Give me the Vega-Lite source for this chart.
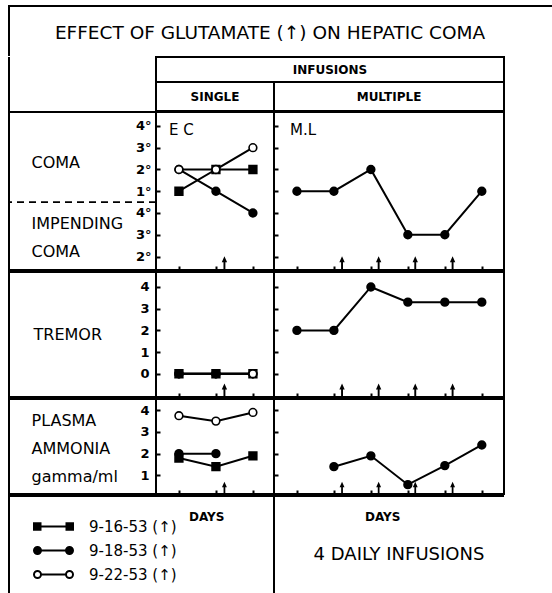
{
"$schema": "https://vega.github.io/schema/vega-lite/v6.json",
"background": "white",
"padding": {"left": 7, "top": 5, "right": 0, "bottom": 0},
"config": {
  "font": "DejaVu Sans",
  "view": {"stroke": "black", "strokeWidth": 2},
  "axis": {"domain": false, "grid": false, "tickColor": "black", "tickWidth": 2, "tickSize": -4, "labelColor": "black", "labelFont": "DejaVu Sans", "labelFontSize": 13, "labelFontWeight": "bold", "labelOverlap": false, "titleColor": "black", "titleFont": "DejaVu Sans", "titleFontSize": 12, "titleFontWeight": "bold"},
  "text": {"color": "black", "font": "DejaVu Sans"},
  "title": {"color": "black", "font": "DejaVu Sans"}
},
"datasets": {
  "obs": [
    {"measure": "coma", "patient": "E.C.", "series": "9-16-53", "day": 1, "value": 4},
    {"measure": "coma", "patient": "E.C.", "series": "9-16-53", "day": 2, "value": 5},
    {"measure": "coma", "patient": "E.C.", "series": "9-16-53", "day": 3, "value": 5},
    {"measure": "coma", "patient": "E.C.", "series": "9-18-53", "day": 1, "value": 5},
    {"measure": "coma", "patient": "E.C.", "series": "9-18-53", "day": 2, "value": 4},
    {"measure": "coma", "patient": "E.C.", "series": "9-18-53", "day": 3, "value": 3},
    {"measure": "coma", "patient": "E.C.", "series": "9-22-53", "day": 1, "value": 5},
    {"measure": "coma", "patient": "E.C.", "series": "9-22-53", "day": 2, "value": 5},
    {"measure": "coma", "patient": "E.C.", "series": "9-22-53", "day": 3, "value": 6},
    {"measure": "coma", "patient": "M.L.", "series": "M.L.", "day": 1, "value": 4},
    {"measure": "coma", "patient": "M.L.", "series": "M.L.", "day": 2, "value": 4},
    {"measure": "coma", "patient": "M.L.", "series": "M.L.", "day": 3, "value": 5},
    {"measure": "coma", "patient": "M.L.", "series": "M.L.", "day": 4, "value": 2},
    {"measure": "coma", "patient": "M.L.", "series": "M.L.", "day": 5, "value": 2},
    {"measure": "coma", "patient": "M.L.", "series": "M.L.", "day": 6, "value": 4},
    {"measure": "tremor", "patient": "E.C.", "series": "9-22-53", "day": 1, "value": 0},
    {"measure": "tremor", "patient": "E.C.", "series": "9-18-53", "day": 1, "value": 0},
    {"measure": "tremor", "patient": "E.C.", "series": "9-16-53", "day": 1, "value": 0},
    {"measure": "tremor", "patient": "E.C.", "series": "9-22-53", "day": 2, "value": 0},
    {"measure": "tremor", "patient": "E.C.", "series": "9-16-53", "day": 2, "value": 0},
    {"measure": "tremor", "patient": "E.C.", "series": "9-18-53", "day": 2, "value": 0},
    {"measure": "tremor", "patient": "E.C.", "series": "9-16-53", "day": 3, "value": 0},
    {"measure": "tremor", "patient": "E.C.", "series": "9-18-53", "day": 3, "value": 0},
    {"measure": "tremor", "patient": "E.C.", "series": "9-22-53", "day": 3, "value": 0},
    {"measure": "tremor", "patient": "M.L.", "series": "M.L.", "day": 1, "value": 2},
    {"measure": "tremor", "patient": "M.L.", "series": "M.L.", "day": 2, "value": 2},
    {"measure": "tremor", "patient": "M.L.", "series": "M.L.", "day": 3, "value": 4},
    {"measure": "tremor", "patient": "M.L.", "series": "M.L.", "day": 4, "value": 3.3},
    {"measure": "tremor", "patient": "M.L.", "series": "M.L.", "day": 5, "value": 3.3},
    {"measure": "tremor", "patient": "M.L.", "series": "M.L.", "day": 6, "value": 3.3},
    {"measure": "ammonia", "patient": "E.C.", "series": "9-16-53", "day": 1, "value": 1.8},
    {"measure": "ammonia", "patient": "E.C.", "series": "9-16-53", "day": 2, "value": 1.4},
    {"measure": "ammonia", "patient": "E.C.", "series": "9-16-53", "day": 3, "value": 1.9},
    {"measure": "ammonia", "patient": "E.C.", "series": "9-18-53", "day": 1, "value": 2.0},
    {"measure": "ammonia", "patient": "E.C.", "series": "9-18-53", "day": 2, "value": 2.0},
    {"measure": "ammonia", "patient": "E.C.", "series": "9-22-53", "day": 1, "value": 3.75},
    {"measure": "ammonia", "patient": "E.C.", "series": "9-22-53", "day": 2, "value": 3.5},
    {"measure": "ammonia", "patient": "E.C.", "series": "9-22-53", "day": 3, "value": 3.9},
    {"measure": "ammonia", "patient": "M.L.", "series": "M.L.", "day": 2, "value": 1.4},
    {"measure": "ammonia", "patient": "M.L.", "series": "M.L.", "day": 3, "value": 1.9},
    {"measure": "ammonia", "patient": "M.L.", "series": "M.L.", "day": 4, "value": 0.57},
    {"measure": "ammonia", "patient": "M.L.", "series": "M.L.", "day": 5, "value": 1.45},
    {"measure": "ammonia", "patient": "M.L.", "series": "M.L.", "day": 6, "value": 2.4}
  ],
  "infusions": [
    {"patient": "E.C.", "day": 2.23},
    {"patient": "M.L.", "day": 2.22},
    {"patient": "M.L.", "day": 3.21},
    {"patient": "M.L.", "day": 4.2},
    {"patient": "M.L.", "day": 5.21}
  ],
  "comaLevels": [
    {"level": 1, "grade": "2°", "zone": "IMPENDING COMA"},
    {"level": 2, "grade": "3°", "zone": "IMPENDING COMA"},
    {"level": 3, "grade": "4°", "zone": "IMPENDING COMA"},
    {"level": 4, "grade": "1°", "zone": "COMA"},
    {"level": 5, "grade": "2°", "zone": "COMA"},
    {"level": 6, "grade": "3°", "zone": "COMA"},
    {"level": 7, "grade": "4°", "zone": "COMA"}
  ],
  "series": [
    {"series": "9-16-53"}, {"series": "9-18-53"}, {"series": "9-22-53"}
  ]
},
"spacing": -1,
"resolve": {"scale": {"shape": "independent", "fill": "independent"}, "legend": {"shape": "independent", "fill": "independent"}},
"vconcat": [
  {
    "width": 544, "height": 50,
    "view": {"stroke": "black", "strokeWidth": 2, "strokeDash": [544, 594, 50]},
    "data": {"values": [{"t": "EFFECT OF GLUTAMATE (↑) ON HEPATIC COMA"}]},
    "mark": {"type": "text", "fontSize": 18.5, "dx": -11, "dy": 2},
    "encoding": {"text": {"field": "t"}}
  },
  {
    "spacing": 0, "bounds": "flush",
    "hconcat": [
      {
        "width": 147, "height": 54,
        "view": {"stroke": "black", "strokeWidth": 2, "strokeDash": [0, 348, 54]},
        "data": {"values": [{"t": " "}]},
        "mark": {"type": "text"},
        "encoding": {"text": {"field": "t"}}
      },
      {
        "spacing": 0, "bounds": "flush",
        "vconcat": [
          {
            "width": 348, "height": 25,
            "view": {"stroke": "black", "strokeWidth": 2},
            "data": {"values": [{"t": "INFUSIONS"}]},
            "mark": {"type": "text", "fontSize": 12, "fontWeight": "bold"},
            "encoding": {"text": {"field": "t"}}
          },
          {
            "spacing": 0, "bounds": "flush",
            "hconcat": [
              {
                "width": 118, "height": 29,
                "view": {"stroke": "black", "strokeWidth": 2},
                "data": {"values": [{"t": "SINGLE"}]},
                "mark": {"type": "text", "fontSize": 12, "fontWeight": "bold"},
                "encoding": {"text": {"field": "t"}}
              },
              {
                "width": 230, "height": 29,
                "view": {"stroke": "black", "strokeWidth": 2},
                "data": {"values": [{"t": "MULTIPLE"}]},
                "mark": {"type": "text", "fontSize": 12, "fontWeight": "bold"},
                "encoding": {"text": {"field": "t"}}
              }
            ]
          }
        ]
      }
    ]
  },
  {
    "spacing": 0, "bounds": "flush",
    "hconcat": [
      {
        "width": 147, "height": 158,
        "view": {"stroke": "black", "strokeWidth": 2},
        "layer": [
          {
            "data": {"values": [{}]},
            "mark": {"type": "rule", "strokeDash": [7, 5], "strokeWidth": 1.8, "color": "black"},
            "encoding": {"y": {"datum": 3.5, "type": "quantitative", "scale": {"domain": [0.38, 7.64], "nice": false, "zero": false}, "axis": null}}
          },
          {
            "data": {"name": "comaLevels"},
            "transform": [{"filter": "datum.zone == 'COMA'"}],
            "mark": {"type": "text", "align": "left", "dx": -51, "dy": 4, "fontSize": 16},
            "encoding": {
              "y": {"aggregate": "mean", "field": "level", "type": "quantitative", "scale": {"domain": [0.38, 7.64], "nice": false, "zero": false}, "axis": null},
              "text": {"field": "zone"}
            }
          },
          {
            "data": {"name": "comaLevels"},
            "transform": [{"filter": "datum.zone == 'IMPENDING COMA'"}],
            "mark": {"type": "text", "align": "left", "dx": -51, "dy": -11, "fontSize": 16, "lineBreak": " ", "lineHeight": 28},
            "encoding": {
              "y": {"aggregate": "mean", "field": "level", "type": "quantitative", "scale": {"domain": [0.38, 7.64], "nice": false, "zero": false}, "axis": null},
              "text": {"field": "zone"}
            }
          }
        ]
      },
      {
        "width": 118, "height": 158,
        "title": {"text": "E C", "anchor": "start", "frame": "group", "offset": -33, "dx": 13, "fontSize": 15, "fontWeight": "normal", "baseline": "middle"},
        "layer": [
          {
            "data": {"name": "infusions"},
            "transform": [{"filter": "datum.patient == 'E.C.'"}],
            "mark": {"type": "point", "shape": "arrow", "filled": true, "color": "black", "size": 180, "opacity": 1},
            "encoding": {
              "x": {"field": "day", "type": "quantitative", "scale": {"domain": [0.38, 3.57], "nice": false, "zero": false}, "axis": {"values": [1, 2, 3], "tickCount": 20, "labels": false, "title": null}},
              "y": {"datum": 0.7, "type": "quantitative", "scale": {"domain": [0.38, 7.64], "nice": false, "zero": false}, "axis": {"values": [1, 2, 3, 4, 5, 6, 7], "tickCount": 20, "labelOverlap": false, "labelExpr": "['','2°','3°','4°','1°','2°','3°','4°'][datum.value]", "title": null, "labelPadding": 9}}
            }
          },
          {
            "data": {"name": "obs"},
            "transform": [{"filter": "datum.measure == 'coma' && datum.patient == 'E.C.'"}],
            "mark": {"type": "line", "color": "black", "strokeWidth": 2},
            "encoding": {
              "x": {"field": "day", "type": "quantitative", "scale": {"domain": [0.38, 3.57], "nice": false, "zero": false}},
              "y": {"field": "value", "type": "quantitative", "scale": {"domain": [0.38, 7.64], "nice": false, "zero": false}},
              "detail": {"field": "series"}
            }
          },
          {
            "data": {"name": "obs"},
            "transform": [{"filter": "datum.measure == 'coma' && datum.patient == 'E.C.'"}],
            "mark": {"type": "point", "filled": true, "stroke": "black", "strokeWidth": 1.6, "size": 60, "opacity": 1},
            "encoding": {
              "x": {"field": "day", "type": "quantitative"},
              "y": {"field": "value", "type": "quantitative"},
              "shape": {"field": "series", "type": "nominal", "scale": {"domain": ["9-16-53", "9-18-53", "9-22-53"], "range": ["square", "circle", "circle"]}, "legend": null},
              "fill": {"field": "series", "type": "nominal", "scale": {"domain": ["9-16-53", "9-18-53", "9-22-53"], "range": ["black", "black", "white"]}, "legend": null}
            }
          }
        ]
      },
      {
        "width": 230, "height": 158,
        "title": {"text": "M.L", "anchor": "start", "frame": "group", "offset": -33, "dx": 16, "fontSize": 15, "fontWeight": "normal", "baseline": "middle"},
        "layer": [
          {
            "data": {"name": "infusions"},
            "transform": [{"filter": "datum.patient == 'M.L.'"}],
            "mark": {"type": "point", "shape": "arrow", "filled": true, "color": "black", "size": 180, "opacity": 1},
            "encoding": {
              "x": {"field": "day", "type": "quantitative", "scale": {"domain": [0.38, 6.6], "nice": false, "zero": false}, "axis": {"values": [1, 2, 3, 4, 5, 6], "tickCount": 20, "labels": false, "title": null}},
              "y": {"datum": 0.7, "type": "quantitative", "scale": {"domain": [0.38, 7.64], "nice": false, "zero": false}, "axis": {"values": [1, 2, 3, 4, 5, 6, 7], "tickCount": 20, "labels": false, "title": null}}
            }
          },
          {
            "data": {"name": "obs"},
            "transform": [{"filter": "datum.measure == 'coma' && datum.patient == 'M.L.'"}],
            "mark": {"type": "line", "color": "black", "strokeWidth": 2},
            "encoding": {
              "x": {"field": "day", "type": "quantitative", "scale": {"domain": [0.38, 6.6], "nice": false, "zero": false}},
              "y": {"field": "value", "type": "quantitative", "scale": {"domain": [0.38, 7.64], "nice": false, "zero": false}}
            }
          },
          {
            "data": {"name": "obs"},
            "transform": [{"filter": "datum.measure == 'coma' && datum.patient == 'M.L.'"}],
            "mark": {"type": "point", "shape": "circle", "filled": true, "fill": "black", "stroke": "black", "strokeWidth": 1.6, "size": 60, "opacity": 1},
            "encoding": {
              "x": {"field": "day", "type": "quantitative"},
              "y": {"field": "value", "type": "quantitative"}
            }
          }
        ]
      }
    ]
  },
  {
    "spacing": 0, "bounds": "flush",
    "hconcat": [
      {
        "width": 147, "height": 125,
        "view": {"stroke": "black", "strokeWidth": 2},
        "data": {"values": [{"t": "TREMOR"}]},
        "mark": {"type": "text", "align": "left", "dx": -49, "fontSize": 16},
        "encoding": {"text": {"field": "t"}}
      },
      {
        "width": 118, "height": 125,
        "layer": [
          {
            "data": {"name": "infusions"},
            "transform": [{"filter": "datum.patient == 'E.C.'"}],
            "mark": {"type": "point", "shape": "arrow", "filled": true, "color": "black", "size": 180, "opacity": 1},
            "encoding": {
              "x": {"field": "day", "type": "quantitative", "scale": {"domain": [0.38, 3.57], "nice": false, "zero": false}, "axis": {"values": [1, 2, 3], "tickCount": 20, "labels": false, "title": null}},
              "y": {"datum": -0.76, "type": "quantitative", "scale": {"domain": [-1.07, 4.69], "nice": false, "zero": false}, "axis": {"values": [0, 1, 2, 3, 4], "tickCount": 20, "format": ".0f", "labelOverlap": false, "title": null, "labelPadding": 11}}
            }
          },
          {
            "data": {"name": "obs"},
            "transform": [{"filter": "datum.measure == 'tremor' && datum.patient == 'E.C.'"}],
            "mark": {"type": "line", "color": "black", "strokeWidth": 2},
            "encoding": {
              "x": {"field": "day", "type": "quantitative", "scale": {"domain": [0.38, 3.57], "nice": false, "zero": false}},
              "y": {"field": "value", "type": "quantitative", "scale": {"domain": [-1.07, 4.69], "nice": false, "zero": false}},
              "detail": {"field": "series"}
            }
          },
          {
            "data": {"name": "obs"},
            "transform": [{"filter": "datum.measure == 'tremor' && datum.patient == 'E.C.'"}],
            "mark": {"type": "point", "filled": true, "stroke": "black", "strokeWidth": 1.6, "size": 60, "opacity": 1},
            "encoding": {
              "x": {"field": "day", "type": "quantitative"},
              "y": {"field": "value", "type": "quantitative"},
              "shape": {"field": "series", "type": "nominal", "scale": {"domain": ["9-16-53", "9-18-53", "9-22-53"], "range": ["square", "circle", "circle"]}, "legend": null},
              "fill": {"field": "series", "type": "nominal", "scale": {"domain": ["9-16-53", "9-18-53", "9-22-53"], "range": ["black", "black", "white"]}, "legend": null}
            }
          }
        ]
      },
      {
        "width": 230, "height": 125,
        "layer": [
          {
            "data": {"name": "infusions"},
            "transform": [{"filter": "datum.patient == 'M.L.'"}],
            "mark": {"type": "point", "shape": "arrow", "filled": true, "color": "black", "size": 180, "opacity": 1},
            "encoding": {
              "x": {"field": "day", "type": "quantitative", "scale": {"domain": [0.38, 6.6], "nice": false, "zero": false}, "axis": {"values": [1, 2, 3, 4, 5, 6], "tickCount": 20, "labels": false, "title": null}},
              "y": {"datum": -0.76, "type": "quantitative", "scale": {"domain": [-1.07, 4.69], "nice": false, "zero": false}, "axis": {"values": [0, 1, 2, 3, 4], "tickCount": 20, "labels": false, "title": null}}
            }
          },
          {
            "data": {"name": "obs"},
            "transform": [{"filter": "datum.measure == 'tremor' && datum.patient == 'M.L.'"}],
            "mark": {"type": "line", "color": "black", "strokeWidth": 2},
            "encoding": {
              "x": {"field": "day", "type": "quantitative", "scale": {"domain": [0.38, 6.6], "nice": false, "zero": false}},
              "y": {"field": "value", "type": "quantitative", "scale": {"domain": [-1.07, 4.69], "nice": false, "zero": false}}
            }
          },
          {
            "data": {"name": "obs"},
            "transform": [{"filter": "datum.measure == 'tremor' && datum.patient == 'M.L.'"}],
            "mark": {"type": "point", "shape": "circle", "filled": true, "fill": "black", "stroke": "black", "strokeWidth": 1.6, "size": 60, "opacity": 1},
            "encoding": {
              "x": {"field": "day", "type": "quantitative"},
              "y": {"field": "value", "type": "quantitative"}
            }
          }
        ]
      }
    ]
  },
  {
    "spacing": 0, "bounds": "flush",
    "hconcat": [
      {
        "width": 147, "height": 95,
        "view": {"stroke": "black", "strokeWidth": 2},
        "data": {"values": [{}]},
        "mark": {"type": "text", "align": "left", "dx": -51, "dy": -26, "fontSize": 16, "lineHeight": 28, "text": ["PLASMA", "AMMONIA", "gamma/ml"]},
        "encoding": {}
      },
      {
        "width": 118, "height": 95,
        "layer": [
          {
            "data": {"name": "infusions"},
            "transform": [{"filter": "datum.patient == 'E.C.'"}],
            "mark": {"type": "point", "shape": "arrow", "filled": true, "color": "black", "size": 150, "opacity": 1},
            "encoding": {
              "x": {"field": "day", "type": "quantitative", "scale": {"domain": [0.38, 3.57], "nice": false, "zero": false}, "axis": {"values": [1, 2, 3], "tickCount": 20, "labels": false, "title": null}},
              "y": {"datum": 0.42, "type": "quantitative", "scale": {"domain": [0.14, 4.52], "nice": false, "zero": false}, "axis": {"values": [1, 2, 3, 4], "tickCount": 20, "format": ".0f", "labelOverlap": false, "title": null, "labelPadding": 11}}
            }
          },
          {
            "data": {"name": "obs"},
            "transform": [{"filter": "datum.measure == 'ammonia' && datum.patient == 'E.C.'"}],
            "mark": {"type": "line", "color": "black", "strokeWidth": 2},
            "encoding": {
              "x": {"field": "day", "type": "quantitative", "scale": {"domain": [0.38, 3.57], "nice": false, "zero": false}},
              "y": {"field": "value", "type": "quantitative", "scale": {"domain": [0.14, 4.52], "nice": false, "zero": false}},
              "detail": {"field": "series"}
            }
          },
          {
            "data": {"name": "obs"},
            "transform": [{"filter": "datum.measure == 'ammonia' && datum.patient == 'E.C.'"}],
            "mark": {"type": "point", "filled": true, "stroke": "black", "strokeWidth": 1.6, "size": 60, "opacity": 1},
            "encoding": {
              "x": {"field": "day", "type": "quantitative"},
              "y": {"field": "value", "type": "quantitative"},
              "shape": {"field": "series", "type": "nominal", "scale": {"domain": ["9-16-53", "9-18-53", "9-22-53"], "range": ["square", "circle", "circle"]}, "legend": null},
              "fill": {"field": "series", "type": "nominal", "scale": {"domain": ["9-16-53", "9-18-53", "9-22-53"], "range": ["black", "black", "white"]}, "legend": null}
            }
          }
        ]
      },
      {
        "width": 230, "height": 95,
        "layer": [
          {
            "data": {"name": "infusions"},
            "transform": [{"filter": "datum.patient == 'M.L.'"}],
            "mark": {"type": "point", "shape": "arrow", "filled": true, "color": "black", "size": 150, "opacity": 1},
            "encoding": {
              "x": {"field": "day", "type": "quantitative", "scale": {"domain": [0.38, 6.6], "nice": false, "zero": false}, "axis": {"values": [1, 2, 3, 4, 5, 6], "tickCount": 20, "labels": false, "title": null}},
              "y": {"datum": 0.42, "type": "quantitative", "scale": {"domain": [0.14, 4.52], "nice": false, "zero": false}, "axis": {"values": [1, 2, 3, 4], "tickCount": 20, "labels": false, "title": null}}
            }
          },
          {
            "data": {"name": "obs"},
            "transform": [{"filter": "datum.measure == 'ammonia' && datum.patient == 'M.L.'"}],
            "mark": {"type": "line", "color": "black", "strokeWidth": 2},
            "encoding": {
              "x": {"field": "day", "type": "quantitative", "scale": {"domain": [0.38, 6.6], "nice": false, "zero": false}},
              "y": {"field": "value", "type": "quantitative", "scale": {"domain": [0.14, 4.52], "nice": false, "zero": false}}
            }
          },
          {
            "data": {"name": "obs"},
            "transform": [{"filter": "datum.measure == 'ammonia' && datum.patient == 'M.L.'"}],
            "mark": {"type": "point", "shape": "circle", "filled": true, "fill": "black", "stroke": "black", "strokeWidth": 1.6, "size": 60, "opacity": 1},
            "encoding": {
              "x": {"field": "day", "type": "quantitative"},
              "y": {"field": "value", "type": "quantitative"}
            }
          }
        ]
      }
    ]
  },
  {
    "spacing": 0, "bounds": "flush",
    "hconcat": [
      {
        "width": 265, "height": 100,
        "view": {"stroke": "black", "strokeWidth": 2, "strokeDash": [365, 265, 100]},
        "title": {"text": "DAYS", "anchor": "start", "frame": "group", "offset": -33, "dx": 180, "fontSize": 12, "fontWeight": "bold", "baseline": "middle"},
        "data": {"name": "series"},
        "transform": [{"filter": "datum.series == 'none'"}],
        "mark": {"type": "point", "filled": true, "stroke": "black", "strokeWidth": 2, "size": 100, "opacity": 1},
        "encoding": {
          "shape": {"field": "series", "type": "nominal",
            "scale": {"domain": ["9-16-53", "9-18-53", "9-22-53"], "range": [
              "M-3.9,-0.65H-2.6V0.65H-3.9Z M-2.6,0H2.6 M2.6,-0.65H3.9V0.65H2.6Z",
              "M-3.9,0A0.7,0.7 0 1,1 -2.5,0A0.7,0.7 0 1,1 -3.9,0Z M-2.5,0H2.5 M2.5,0A0.7,0.7 0 1,1 3.9,0A0.7,0.7 0 1,1 2.5,0Z",
              "M-3.9,0A0.7,0.7 0 1,1 -2.5,0A0.7,0.7 0 1,1 -3.9,0Z M-2.5,0H2.5 M2.5,0A0.7,0.7 0 1,1 3.9,0A0.7,0.7 0 1,1 2.5,0Z"]},
            "legend": {"orient": "none", "legendX": 37, "legendY": 23, "title": null, "padding": 0, "labelOffset": 28, "labelFontSize": 15, "labelFont": "DejaVu Sans", "labelColor": "black", "rowPadding": 8, "symbolSize": 100, "symbolStrokeColor": "black", "symbolStrokeWidth": 2, "symbolOpacity": 1, "labelExpr": "datum.label + ' (↑)'",
              "encoding": {"symbols": {"stroke": {"value": "black"}, "strokeWidth": {"value": 2}}}}},
          "fill": {"field": "series", "type": "nominal",
            "scale": {"domain": ["9-16-53", "9-18-53", "9-22-53"], "range": ["black", "black", "white"]},
            "legend": {"orient": "none", "legendX": 37, "legendY": 23, "title": null, "padding": 0, "labelOffset": 28, "labelFontSize": 15, "labelFont": "DejaVu Sans", "labelColor": "black", "rowPadding": 8, "symbolSize": 100, "symbolStrokeColor": "black", "symbolStrokeWidth": 2, "symbolOpacity": 1, "labelExpr": "datum.label + ' (↑)'",
              "encoding": {"symbols": {"stroke": {"value": "black"}, "strokeWidth": {"value": 2}}}}}
        }
      },
      {
        "width": 230, "height": 100,
        "view": {"stroke": "black", "strokeWidth": 2, "strokeDash": [230, 430]},
        "title": {"text": "DAYS", "anchor": "start", "frame": "group", "offset": -33, "dx": 91, "fontSize": 12, "fontWeight": "bold", "baseline": "middle"},
        "data": {"values": [{"t": "4 DAILY INFUSIONS"}]},
        "mark": {"type": "text", "fontSize": 18, "dx": 10, "dy": 9},
        "encoding": {"text": {"field": "t"}}
      }
    ]
  }
]
}
